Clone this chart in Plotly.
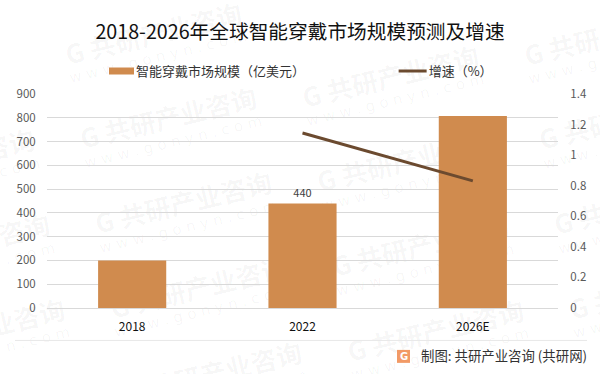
import plotly.graph_objects as go

categories = ["2018", "2022", "2026E"]
market_size = [200, 440, 808]
market_labels = ["", "440", ""]
growth = [None, 1.145, 0.832]
left_ticks = [0, 100, 200, 300, 400, 500, 600, 700, 800, 900]
right_ticks = [0, 0.2, 0.4, 0.6, 0.8, 1, 1.2, 1.4]
right_labels = ["0", "0.2", "0.4", "0.6", "0.8", "1", "1.2", "1.4"]

W, H = 600, 374
L, R, T, B = 47, 558, 94, 308.5
CJK = "Noto Sans CJK SC"


def px(v):
    return (v - L) / (R - L)


def py(v):
    return (B - v) / (B - T)


fig = go.Figure()
fig.add_trace(go.Bar(
    x=categories, y=market_size, name="智能穿戴市场规模（亿美元）" + "\u00a0" * 27,
    marker=dict(color="#D08B4E", line=dict(width=0)),
    text=market_labels, textposition="outside", cliponaxis=False,
    textfont=dict(size=11, color="#404040", family=CJK),
))
fig.add_trace(go.Scatter(
    x=categories, y=growth, name="增速（%）", yaxis="y2", mode="lines",
    line=dict(color="#6B4A2F", width=3),
))

annotations = []
wm_rows = []
for i in range(-2, 5):
    for j in range(-2, 5):
        cx = 168 + 15 * i + 222 * j
        cy = 117 + 85 * i - 42 * j
        if -60 < cx < 660 and -10 < cy < 390:
            wm_rows.append((cx, cy))
for cx, cy in wm_rows:
    annotations.append(dict(
        x=px(cx), y=py(cy), xref="paper", yref="paper", showarrow=False,
        xanchor="center", yanchor="middle",
        text="<b>G 共研产业咨询</b>", textangle=-13.5,
        font=dict(size=26, color="rgba(0,0,0,0.04)", family=CJK),
    ))
    annotations.append(dict(
        x=px(cx + 5), y=py(cy + 25), xref="paper", yref="paper", showarrow=False,
        xanchor="center", yanchor="middle",
        text="w w w . g o n y n . c o m", textangle=-13.5,
        font=dict(size=15, color="rgba(0,0,0,0.04)", family="DejaVu Sans"),
    ))
n_wm = len(annotations)

annotations.append(dict(
    x=px(418.5), y=py(356), xref="paper", yref="paper", showarrow=False,
    xanchor="left", yanchor="middle",
    text="制图: 共研产业咨询 (共研网)", font=dict(size=13.4, color="#333333", family=CJK),
))
annotations.append(dict(
    x=px(403.5), y=py(357), xref="paper", yref="paper", showarrow=False,
    xanchor="center", yanchor="middle",
    text="<b>G</b>", font=dict(size=10, color="#ffffff", family="DejaVu Sans"),
))

fig.update_layout(
    width=W, height=H, autosize=False,
    margin=dict(l=L, r=W - R, t=T, b=H - B, pad=0),
    paper_bgcolor="rgba(255,255,255,1)", plot_bgcolor="rgba(0,0,0,0)",
    title=dict(text="2018-2026年全球智能穿戴市场规模预测及增速", x=0.5, xanchor="center",
               y=1 - 32 / H, yanchor="middle",
               font=dict(size=19.7, color="#111111", family=CJK)),
    bargap=0.6, showlegend=True,
    legend=dict(orientation="h", x=px(96), xanchor="left", y=py(71), yanchor="middle",
                font=dict(size=13, color="#333333", family=CJK),
                bgcolor="rgba(0,0,0,0)", traceorder="normal"),
    xaxis=dict(type="category", showgrid=False, showline=True, linecolor="#d9d9d9", linewidth=1,
               ticks="outside", ticklen=8, tickcolor="rgba(0,0,0,0)",
               tickfont=dict(size=12, color="#111111", family=CJK)),
    yaxis=dict(range=[0, 900], tickvals=left_ticks, showgrid=True, gridcolor="#d9d9d9", gridwidth=1,
               zeroline=False, showline=False, ticks="outside", ticklen=8, tickcolor="rgba(0,0,0,0)",
               tickfont=dict(size=11.5, color="#595959", family=CJK)),
    yaxis2=dict(range=[0, 1.4], tickvals=right_ticks, ticktext=right_labels, overlaying="y", side="right",
                showgrid=False, zeroline=False, showline=False,
                ticks="outside", ticklen=9, tickcolor="rgba(0,0,0,0)",
                tickfont=dict(size=11.5, color="#595959", family=CJK)),
    annotations=annotations,
    shapes=[
        dict(type="line", xref="paper", yref="paper", x0=px(15), x1=px(587),
             y0=py(341), y1=py(341), line=dict(color="#e8e8e8", width=1)),
        dict(type="rect", xref="paper", yref="paper", x0=px(397), x1=px(410),
             y0=py(363.5), y1=py(350.5), fillcolor="#F29A66", line=dict(width=0)),
    ],
)

post = """
document.body.style.margin = '0';
var gd = document.getElementsByClassName('plotly-graph-div')[0];
var svg = gd.querySelector('.main-svg');
var cart = svg.querySelector('.cartesianlayer');
gd.querySelectorAll('.annotation').forEach(function (a) {
  if (+a.getAttribute('data-index') < %d) { cart.parentNode.insertBefore(a, cart); }
});
gd.querySelectorAll('.legend .legendpoints path').forEach(function (p) {
  p.setAttribute('d', 'M18,3.5H-7V-3.5H18Z');
});
gd.querySelectorAll('.legend .legendlines path').forEach(function (p) {
  p.setAttribute('d', 'M10,0h28');
});
""" % n_wm
fig.write_html("out.html", post_script=post, config=dict(displayModeBar=False))
